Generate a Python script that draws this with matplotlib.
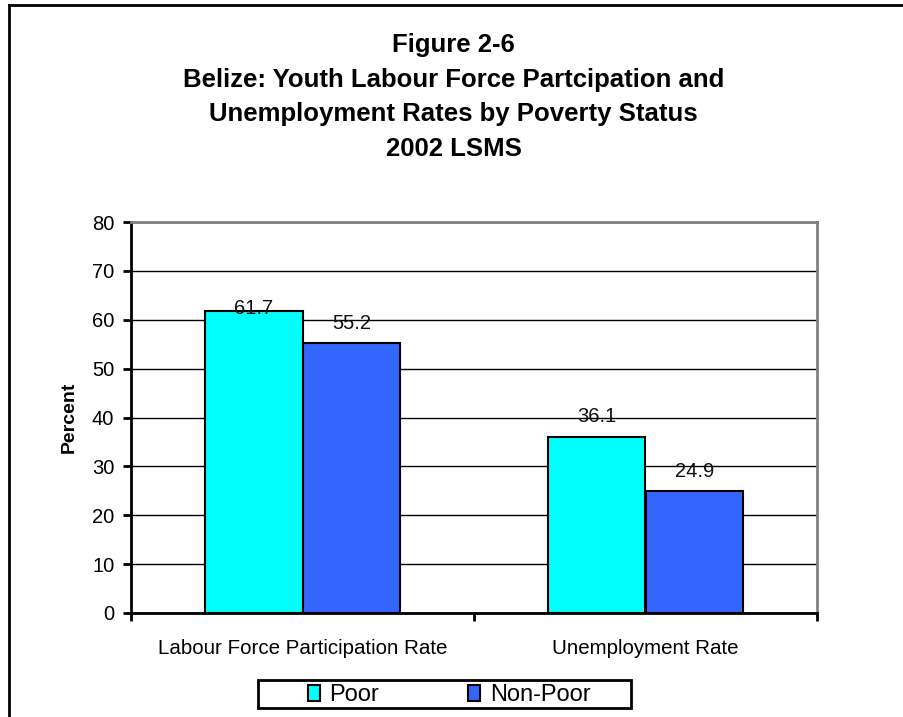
import numpy as np
import matplotlib
matplotlib.use("Agg")
import matplotlib.pyplot as plt
from matplotlib.lines import Line2D
from matplotlib.patches import Patch, Rectangle

plt.rcParams["font.family"] = ["Liberation Sans", "DejaVu Sans"]

# ------------------------------------------------------------------
# Data
# ------------------------------------------------------------------
CATEGORIES = ["Labour Force Participation Rate", "Unemployment Rate"]
POOR = [61.7, 36.1]
NON_POOR = [55.2, 24.9]
SERIES_NAMES = ["Poor", "Non-Poor"]
Y_TICKS = [0, 10, 20, 30, 40, 50, 60, 70, 80]

TITLE = ("Figure 2-6\n"
         "Belize: Youth Labour Force Partcipation and\n"
         "Unemployment Rates by Poverty Status\n"
         "2002 LSMS")

CYAN = "#00FFFF"
BLUE = "#3366FF"
GREY = "#808080"

W, H = 904, 717
fig = plt.figure(figsize=(W / 100, H / 100), dpi=100)

# chart frame (only left and top edges fall inside the canvas)
fig.add_artist(Line2D([9 / W, 9 / W], [0, 1 - 5 / H], color="black",
                      linewidth=2, transform=fig.transFigure))
fig.add_artist(Line2D([9 / W, 1], [1 - 5 / H, 1 - 5 / H], color="black",
                      linewidth=2, transform=fig.transFigure))

fig.text(0.502, 1 - 97 / H, TITLE, ha="center", va="center",
         fontsize=18.5, fontweight="bold", linespacing=1.56)

ax = fig.add_axes([131 / W, 1 - 613 / H, 686 / W, 391 / H])

x = np.arange(len(CATEGORIES))
width = 0.2857
bars_p = ax.bar(x - width / 2, POOR, width, color=CYAN, edgecolor="black",
                linewidth=1.5, zorder=3)
bars_n = ax.bar(x + width / 2, NON_POOR, width, color=BLUE, edgecolor="black",
                linewidth=1.5, zorder=3)

# value labels; the first one sits close to its bar top
offsets = {(0, 0): 3}
for j, group in enumerate((bars_p, bars_n)):
    for k, b in enumerate(group):
        ax.annotate(f"{b.get_height():.1f}",
                    (b.get_x() + b.get_width() / 2, b.get_height()),
                    xytext=(0, offsets.get((j, k), 20)),
                    textcoords="offset pixels", ha="center", va="center",
                    fontsize=14.5, color="#111111", zorder=5)

ax.set_xlim(-0.5, len(CATEGORIES) - 0.5)
ax.set_ylim(0, 80)
ax.set_yticks(Y_TICKS)
ax.set_yticklabels([str(t) for t in Y_TICKS], fontsize=14.5)
ax.yaxis.grid(True, color="black", linewidth=1, zorder=0)
ax.set_axisbelow(True)

# category separators as ticks, labels centred in between
ax.set_xticks(np.arange(-0.5, len(CATEGORIES)))
ax.set_xticklabels([])
ax.set_xticks(x, minor=True)
ax.set_xticklabels(CATEGORIES, minor=True, fontsize=14.8)
ax.tick_params(axis="x", which="minor", length=0, pad=19)
ax.tick_params(axis="both", which="major", direction="out", length=6,
               width=2, color="black")
ax.tick_params(axis="y", pad=6)

for side in ("left", "bottom"):
    ax.spines[side].set_color("black")
    ax.spines[side].set_linewidth(2)
for side in ("top", "right"):
    ax.spines[side].set_color(GREY)
    ax.spines[side].set_linewidth(2)

ax.set_ylabel("Percent", fontsize=14, fontweight="bold", labelpad=10)

# legend entries, with a separate wider box drawn around them
handles = [Patch(facecolor=CYAN, edgecolor="black", linewidth=1.5),
           Patch(facecolor=BLUE, edgecolor="black", linewidth=1.5)]
fig.legend(handles, SERIES_NAMES, loc="center",
           bbox_to_anchor=(449 / W, 1 - 695 / H), ncol=2,
           fontsize=17, frameon=False,
           handlelength=0.5, handleheight=0.65, handletextpad=0.4,
           columnspacing=3.8, borderpad=0, borderaxespad=0)
fig.add_artist(Rectangle((258 / W, 1 - 708 / H), 373 / W, 28 / H,
                         transform=fig.transFigure, fill=False,
                         edgecolor="black", linewidth=2))

fig.savefig("out.png", dpi=100)
